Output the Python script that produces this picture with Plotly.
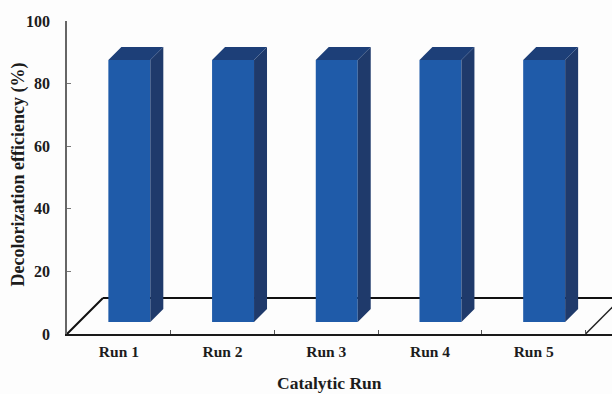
import plotly.graph_objects as go

# Decolorization efficiency for each catalytic run
runs = ["Run 1", "Run 2", "Run 3", "Run 4", "Run 5"]
positions = [1, 2, 3, 4, 5]
efficiency = [83.7, 83.7, 83.7, 83.7, 83.7]
y_ticks = [0, 20, 40, 60, 80, 100]
x_boundaries = [1.5, 2.5, 3.5, 4.5, 5.5]

# Pseudo-3D layout, expressed in axis units
X_PER_PX = 1 / 103.8
Y_PER_PX = 100 / 313
bar_width = 42 * X_PER_PX
floor_dx, floor_dy = 36 * X_PER_PX, 36 * Y_PER_PX
gap_dx, gap_dy = 10.5 * X_PER_PX, 12 * Y_PER_PX
depth_dx, depth_dy = 13 * X_PER_PX, 13 * Y_PER_PX
x_start, x_end = 0.5, 5.5
x_limit = x_start + (612 - 66.5) * X_PER_PX

FRONT = "#1f5ba9"
SIDE = "#1f3a6b"
TOP = "#1d3f78"
FONT = "Liberation Serif"
INK = "#1c1c1c"

fig = go.Figure()

# Front faces
centers = [p + gap_dx for p in positions]
fig.add_trace(go.Bar(
    x=centers, y=efficiency, base=[gap_dy] * len(runs), width=bar_width,
    marker=dict(color=FRONT, line=dict(width=0)),
))

# Side and top faces of each bar
for c, v in zip(centers, efficiency):
    left, right = c - bar_width / 2, c + bar_width / 2
    bottom, top = gap_dy, gap_dy + v
    fig.add_trace(go.Scatter(
        x=[right, right + depth_dx, right + depth_dx, right, right],
        y=[bottom, bottom + depth_dy, top + depth_dy, top, bottom],
        mode="lines", fill="toself", fillcolor=SIDE,
        line=dict(width=0, color=SIDE), hoverinfo="skip",
    ))
    fig.add_trace(go.Scatter(
        x=[left, left + depth_dx, right + depth_dx, right, left],
        y=[top, top + depth_dy, top + depth_dy, top, top],
        mode="lines", fill="toself", fillcolor=TOP,
        line=dict(width=0, color=TOP), hoverinfo="skip",
    ))

# Floor outline sits under the bars
floor_lines = [
    dict(x0=x_start, y0=0, x1=x_start + floor_dx, y1=floor_dy, color="#111111", width=2),
    dict(x0=x_start + floor_dx, y0=floor_dy, x1=x_limit, y1=floor_dy, color="#111111", width=2),
    dict(x0=x_end, y0=0, x1=x_end + floor_dx, y1=floor_dy, color="#222222", width=1.5),
]
for seg in floor_lines:
    fig.add_shape(
        type="line", layer="below", xref="x", yref="y",
        x0=seg["x0"], y0=seg["y0"], x1=seg["x1"], y1=seg["y1"],
        line=dict(color=seg["color"], width=seg["width"]),
    )

# Axis titles
fig.add_annotation(
    text="<b>Catalytic Run</b>", xref="paper", yref="paper", x=0.481, y=0,
    xanchor="center", yanchor="middle", yshift=-49, showarrow=False,
    font=dict(family=FONT, size=17.5, color=INK),
)
fig.add_annotation(
    text="<b>Decolorization efficiency (%)</b>", xref="paper", yref="paper",
    x=0, y=0.508, xanchor="center", yanchor="middle", xshift=-48.5,
    textangle=-90, showarrow=False,
    font=dict(family=FONT, size=18, color=INK),
)

fig.update_layout(
    width=612, height=394,
    margin=dict(l=66.5, r=0, t=21, b=60, autoexpand=False),
    paper_bgcolor="#fdfdfd", plot_bgcolor="#fdfdfd",
    showlegend=False,
    xaxis=dict(
        range=[x_start, x_limit], automargin=False,
        tickmode="array", tickvals=positions, ticktext=runs, ticks="",
        tickfont=dict(family=FONT, size=15.5, color=INK, weight="bold"),
        ticklabelstandoff=2,
        showgrid=False, zeroline=False,
        showline=True, linecolor="#1a1a1a", linewidth=2,
        minor=dict(tickmode="array", tickvals=x_boundaries, ticks="inside",
                   ticklen=4, tickcolor="#555555", tickwidth=1, showgrid=False),
    ),
    yaxis=dict(
        range=[0, 100], automargin=False,
        tickmode="array", tickvals=y_ticks,
        ticks="inside", ticklen=4, tickcolor="#777777", tickwidth=1,
        tickfont=dict(family=FONT, size=16, color=INK, weight="bold"),
        ticklabelstandoff=12,
        showgrid=False, zeroline=False,
        showline=True, linecolor="#666666", linewidth=1.5,
    ),
)

fig.write_html("out.html")
